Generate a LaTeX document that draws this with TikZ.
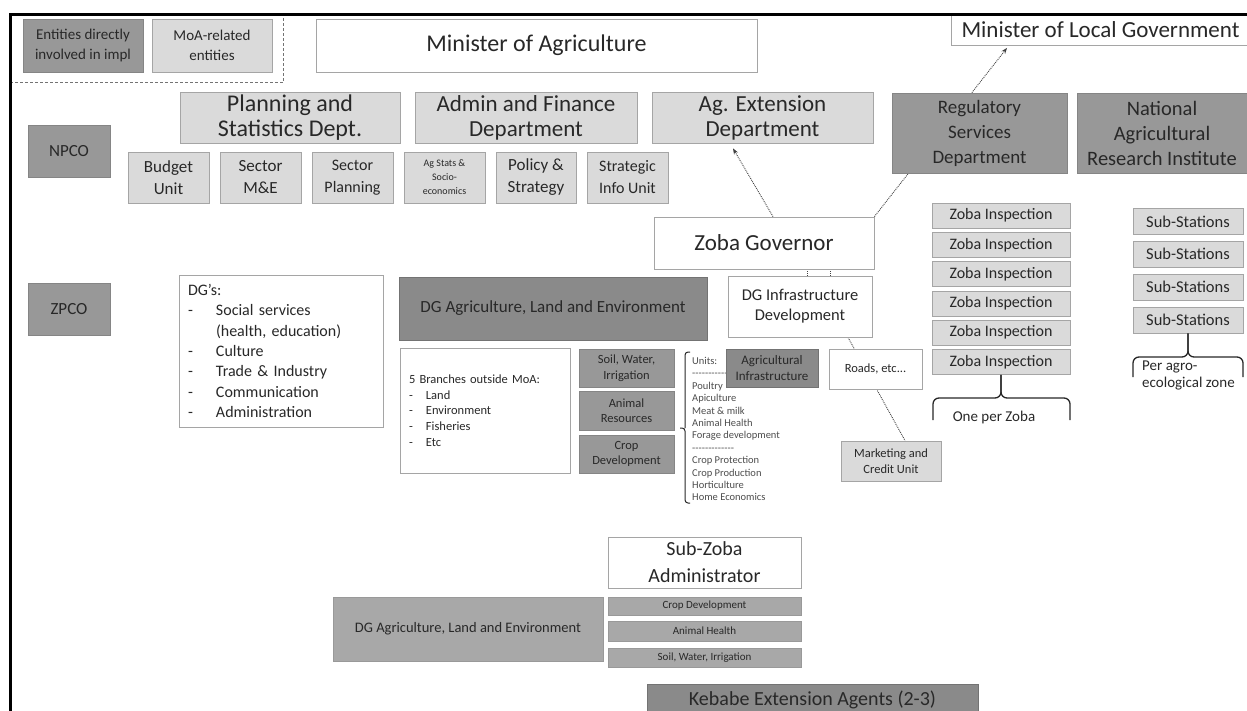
\documentclass[tikz,border=0pt]{standalone}
\usepackage{fontspec}
\setmainfont{Carlito}
\usepackage{tikz}
\usetikzlibrary{arrows.meta,backgrounds}
\usepackage{xcolor}
\definecolor{implgrey}{RGB}{152,152,152}
\definecolor{deepgrey}{RGB}{138,138,138}
\definecolor{midgrey}{RGB}{168,168,168}
\definecolor{moagrey}{RGB}{218,218,218}
\definecolor{edgegrey}{RGB}{165,165,165}
\definecolor{inkgrey}{RGB}{40,40,40}
\newcommand{\fsz}[2]{\fontsize{#1}{#2}\selectfont}

\tikzset{
  orgbox/.style={rectangle, draw=edgegrey, line width=0.8pt, inner sep=0pt,
    align=center, text=inkgrey},
  implbox/.style={orgbox, fill=implgrey, draw=black!48},
  deepbox/.style={orgbox, fill=deepgrey, draw=black!55},
  midbox/.style={orgbox, fill=midgrey, draw=black!40},
  moabox/.style={orgbox, fill=moagrey},
  whitebox/.style={orgbox, fill=white},
  link/.style={densely dotted, line width=0.9pt, black!75},
  bracket/.style={line width=1.3pt, rounded corners=6pt, black!85},
}

\begin{document}
\begin{tikzpicture}[x=1pt, y=-1pt, >={Stealth[length=6pt,width=4.5pt]}]
  \useasboundingbox (0,0) rectangle (1247,711);
  % Legend
  \node[implbox, minimum width=120pt, minimum height=53pt, font=\fsz{15}{20}]
    (legimpl) at (83,45.5) {Entities directly\\involved in impl};
  \node[moabox, minimum width=120pt, minimum height=53pt, font=\fsz{15}{20}]
    (legmoa) at (212,45.5) {MoA-related\\entities};
  \draw[black!55, line width=1pt, dash pattern=on 3pt off 2pt]
    (10,83) -- (283,83) -- (283,14);
  % Ministers
  \node[whitebox, minimum width=441pt, minimum height=53pt, font=\fsz{24}{26}]
    (minag) at (536.5,45.5) {Minister of Agriculture};
  \node[whitebox, minimum width=299pt, minimum height=31pt, font=\fsz{23}{25}]
    (minlg) at (1100.5,30) {Minister of Local Government};
  % National level
  \node[implbox, minimum width=82pt, minimum height=52pt, font=\fsz{17}{20}]
    (npco) at (69,151) {NPCO};
  \node[moabox, minimum width=220pt, minimum height=51pt, font=\fsz{24}{25}]
    (plan) at (290,117.5) {Planning and\\Statistics Dept.};
  \node[moabox, minimum width=222pt, minimum height=51pt, font=\fsz{23}{25}]
    (admin) at (526,117.5) {Admin and Finance\\Department};
  \node[moabox, minimum width=221pt, minimum height=51pt, font=\fsz{23}{25}]
    (agext) at (762.5,117.5) {Ag. Extension\\Department};
  \node[implbox, minimum width=175pt, minimum height=80pt, font=\fsz{19}{25}]
    (regul) at (979.5,133) {Regulatory\\Services\\Department};
  \node[implbox, minimum width=170pt, minimum height=80pt, font=\fsz{20.5}{25}]
    (nari) at (1162,133) {National\\Agricultural\\Research Institute};
  % Units of the Planning and Statistics Dept.
  \node[moabox, minimum width=81pt, minimum height=51pt, font=\fsz{17}{22}]
    (budget) at (168.5,177.5) {Budget\\Unit};
  \node[moabox, minimum width=81pt, minimum height=51pt, font=\fsz{17}{22}]
    (secme) at (260.5,177.5) {Sector\\M\&E};
  \node[moabox, minimum width=81pt, minimum height=51pt, font=\fsz{16}{22}]
    (secplan) at (352.5,177.5) {Sector\\Planning};
  \node[moabox, minimum width=81pt, minimum height=51pt, font=\fsz{10}{14}]
    (agstats) at (444.5,177.5) {Ag Stats \&\\Socio-\\economics};
  \node[moabox, minimum width=80pt, minimum height=51pt, font=\fsz{17}{22}]
    (policy) at (536,177.5) {Policy \&\\Strategy};
  \node[moabox, minimum width=81pt, minimum height=51pt, font=\fsz{16}{22}]
    (strat) at (627.5,177.5) {Strategic\\Info Unit};
  % Zoba level
  \node[implbox, minimum width=82pt, minimum height=52pt, font=\fsz{17}{20}]
    (zpco) at (69,309) {ZPCO};
  \node[whitebox, minimum width=220pt, minimum height=52pt, font=\fsz{23}{25}]
    (zoba) at (764,243) {Zoba Governor};
  \node[whitebox, minimum width=144pt, minimum height=61pt, font=\fsz{16.5}{20}]
    (dginfra) at (800,306.5) {DG Infrastructure\\Development};
  \node[deepbox, minimum width=308pt, minimum height=63pt, font=\fsz{17}{20}]
    (dgagri) at (553,308.5) {DG Agriculture, Land and Environment};
  \node[whitebox, minimum width=204pt, minimum height=152pt, text width=186pt,
    align=left, font=\fsz{16}{20.3}] (dgs) at (281,351)
    {DG’s:\\
     \makebox[28pt][l]{-}Social services\\
     \hspace*{28pt}(health, education)\\
     \makebox[28pt][l]{-}Culture\\
     \makebox[28pt][l]{-}Trade \& Industry\\
     \makebox[28pt][l]{-}Communication\\
     \makebox[28pt][l]{-}Administration};
  \node[whitebox, minimum width=170pt, minimum height=125pt, text width=152pt,
    align=left, font=\fsz{12.5}{15.7}] (branches) at (485,410.5)
    {5 Branches outside MoA:\\
     \makebox[17pt][l]{-}Land\\
     \makebox[17pt][l]{-}Environment\\
     \makebox[17pt][l]{-}Fisheries\\
     \makebox[17pt][l]{-}Etc};
  \node[implbox, minimum width=95pt, minimum height=38pt, font=\fsz{12.5}{15.5}]
    (soil) at (626.5,368) {Soil, Water,\\Irrigation};
  \node[implbox, minimum width=95pt, minimum height=39pt, font=\fsz{12.5}{15.5}]
    (animal) at (626.5,410.5) {Animal\\Resources};
  \node[implbox, minimum width=95pt, minimum height=38pt, font=\fsz{12.5}{15.5}]
    (cropmid) at (626.5,454) {Crop\\Development};
  % Units list
  \draw[bracket, rounded corners=3pt, line width=1pt] (690,503) -- (685,503)
    -- (685,428) -- (680,428) (685,428) -- (685,352) -- (690,352);
  \node[anchor=north west, inner sep=0pt, align=left, text=black!70,
    font=\fsz{10.5}{12.4}] (unitlist) at (692,357)
    {Units:\\
     -{}-{}-{}-{}-{}-{}-{}-{}-{}-{}-\\
     Poultry\\ Apiculture\\ Meat \& milk\\ Animal Health\\ Forage development\\
     -{}-{}-{}-{}-{}-{}-{}-{}-{}-{}-{}-{}-\\
     Crop Protection\\ Crop Production\\ Horticulture\\ Home Economics};
  \node[deepbox, minimum width=92pt, minimum height=38pt, font=\fsz{13}{15.5}]
    (agrinfra) at (772,368) {Agricultural\\Infrastructure};
  \node[whitebox, minimum width=93pt, minimum height=40pt, font=\fsz{12.5}{15.5}]
    (roads) at (875.5,369) {Roads, etc...};
  \node[moabox, minimum width=100pt, minimum height=40pt, font=\fsz{12.5}{15.5}]
    (market) at (891,461) {Marketing and\\Credit Unit};
  % Zoba inspection
  \node[moabox, minimum width=138pt, minimum height=25pt, font=\fsz{16}{18}]
    (insp1) at (1001,215.5) {Zoba Inspection};
  \node[moabox, minimum width=138pt, minimum height=25pt, font=\fsz{16}{18}]
    (insp2) at (1001,244.8) {Zoba Inspection};
  \node[moabox, minimum width=138pt, minimum height=25pt, font=\fsz{16}{18}]
    (insp3) at (1001,274.1) {Zoba Inspection};
  \node[moabox, minimum width=138pt, minimum height=25pt, font=\fsz{16}{18}]
    (insp4) at (1001,303.4) {Zoba Inspection};
  \node[moabox, minimum width=138pt, minimum height=25pt, font=\fsz{16}{18}]
    (insp5) at (1001,332.7) {Zoba Inspection};
  \node[moabox, minimum width=138pt, minimum height=25pt, font=\fsz{16}{18}]
    (insp6) at (1001,362) {Zoba Inspection};
  \draw[bracket] (933,420) -- (933,398) -- (1001,398) -- (insp6.south);
  \draw[bracket] (insp6.south) -- (1001,398) -- (1070,398) -- (1070,420);
  \node[text=inkgrey, font=\fsz{15}{17}] (perzoba) at (994,417) {One per Zoba};
  % Research sub-stations
  \node[moabox, minimum width=110pt, minimum height=26pt, font=\fsz{16.5}{18}]
    (sub1) at (1188,221.5) {Sub-Stations};
  \node[moabox, minimum width=110pt, minimum height=26pt, font=\fsz{16.5}{18}]
    (sub2) at (1188,254.3) {Sub-Stations};
  \node[moabox, minimum width=110pt, minimum height=26pt, font=\fsz{16.5}{18}]
    (sub3) at (1188,287.1) {Sub-Stations};
  \node[moabox, minimum width=110pt, minimum height=26pt, font=\fsz{16.5}{18}]
    (sub4) at (1188,319.9) {Sub-Stations};
  \draw[bracket] (1133,377) -- (1133,357) -- (1188,357) -- (sub4.south);
  \draw[bracket] (sub4.south) -- (1188,357) -- (1243,357) -- (1243,377);
  \node[anchor=north west, inner sep=0pt, align=left, text=inkgrey,
    font=\fsz{15}{17}] (perzone) at (1142,361) {Per agro-\\ecological zone};
  % Sub-Zoba level
  \node[whitebox, minimum width=193pt, minimum height=51pt, font=\fsz{20}{27}]
    (subzoba) at (704.5,562.5) {Sub-Zoba\\Administrator};
  \node[midbox, minimum width=270pt, minimum height=64pt, font=\fsz{14.5}{18}]
    (dgagrilow) at (468,629) {DG Agriculture, Land and Environment};
  \node[midbox, minimum width=193pt, minimum height=18pt, font=\fsz{11}{13}]
    (cropdev) at (704.5,606) {Crop Development};
  \node[midbox, minimum width=193pt, minimum height=20pt, font=\fsz{11}{13}]
    (animhealth) at (704.5,631) {Animal Health};
  \node[midbox, minimum width=193pt, minimum height=19pt, font=\fsz{11}{13}]
    (soillow) at (704.5,657.5) {Soil, Water, Irrigation};
  \node[deepbox, minimum width=331pt, minimum height=32pt, font=\fsz{20}{22}]
    (kebabe) at (812.5,700) {Kebabe Extension Agents (2-3)};
  % Reporting lines
  \begin{scope}[on background layer]
    \draw[link,->] ([xshift=9pt]zoba.north) -- ([xshift=-29.5pt,yshift=-5pt]agext.south);
    \draw[link,->] (zoba.north east) -- ([xshift=-93.5pt,yshift=-2pt]minlg.south);
    \draw[link] ([xshift=43pt]zoba.south) -- ([xshift=7pt]dginfra.north);
    \draw[link] ([xshift=66pt]zoba.south) -- ([xshift=30pt]dginfra.north);
    \draw[link] ([xshift=48pt]dginfra.south) -- ([xshift=14pt]market.north);
  \end{scope}
  % Frame
  \draw[line width=2.5pt] (10.7,711) -- (10.7,14.5) -- (1247,14.5);
\end{tikzpicture}
\end{document}
